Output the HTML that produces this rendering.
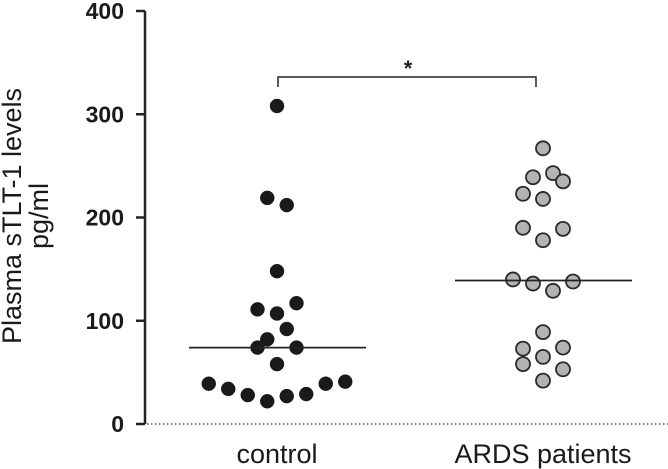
<!DOCTYPE html>
<html><head><meta charset="utf-8"><style>
html,body{margin:0;padding:0;background:#fff;}
svg{display:block;font-family:"Liberation Sans",Arial,sans-serif;}
</style></head><body>
<svg id="chart" width="668" height="469" viewBox="0 0 668 469">
  <g id="axes"></g>
  <g id="marks"></g>
</svg>
<script>
const yTicks = [0, 100, 200, 300, 400];
const categories = ["control", "ARDS patients"];
const controlValues = [308, 219, 212, 148, 111, 107, 117, 92, 82, 74, 74, 58, 39, 34, 28, 22, 27, 29, 39, 41];
const controlSlots = [0, -0.5, 0.5, 0, -1, 0, 1, 0.5, -0.5, -1, 1, 0, -3.5, -2.5, -1.5, -0.5, 0.5, 1.5, 2.5, 3.5];
const ardsValues = [267, 239, 243, 235, 223, 218, 190, 189, 178, 140, 136, 129, 138, 89, 73, 74, 65, 58, 53, 42];
const ardsSlots = [0, -0.5, 0.5, 1, -1, 0, -1, 1, 0, -1.5, -0.5, 0.5, 1.5, 0, -1, 1, 0, -1, 1, 0];
const medians = [74, 139];
const sigLabel = "*";

const NS = "http://www.w3.org/2000/svg";
const y0 = 424, yTop = 11, vMax = 400;
function yScale(v){ return y0 - (y0 - yTop) * v / vMax; }
const catCenters = [277, 543];
function xScale(i){ return catCenters[i]; }
const slotW = [19.5, 20];
function mk(tag, attrs, parent){ const e=document.createElementNS(NS,tag); for(const k in attrs) e.setAttribute(k,attrs[k]); parent.appendChild(e); return e; }

const axes = document.getElementById('axes');
const marks = document.getElementById('marks');
const axisX = 145;

let yl = mk('line',{x1:axisX,y1:yScale(vMax),x2:axisX,y2:y0,stroke:'#222','stroke-width':2.5},axes);


let bl = mk('line',{x1:axisX+2,y1:y0,x2:668,y2:y0,stroke:'#333','stroke-width':1.2,'stroke-dasharray':'1.5,2.5'},axes);



yTicks.forEach(t=>{
  const y=yScale(t);
  const tk=mk('line',{x1:136,y1:y,x2:axisX,y2:y,stroke:'#222','stroke-width':2.5},axes);
  
  
  const tx=mk('text',{x:124,y:y+8,'text-anchor':'end','font-size':23,'font-weight':'bold',fill:'#1a1a1a'},axes);
  tx.textContent=t;
  
  
});

const title=mk('text',{transform:'translate(21,216) rotate(-90)','text-anchor':'middle','font-size':27,fill:'#1a1a1a'},axes);
title.textContent='Plasma sTLT-1 levels';


const unit=mk('text',{transform:'translate(48,216) rotate(-90)','text-anchor':'middle','font-size':27,fill:'#1a1a1a'},axes);
unit.textContent='pg/ml';



categories.forEach((c,i)=>{
  const t=mk('text',{x:xScale(i),y:463,'text-anchor':'middle','font-size':27,fill:'#1a1a1a'},axes);
  t.textContent=c;
  
  
});

function drawGroup(vals, slots, gi, fill, stroke, sw){
  vals.forEach((v,k)=>{
    const c=mk('circle',{cx:xScale(gi)+slots[k]*slotW[gi],cy:yScale(v),r:7,fill:fill,stroke:stroke,'stroke-width':sw},marks);
    
    
  });
}
drawGroup(controlValues, controlSlots, 0, '#1a1a1a', '#1a1a1a', 0.5);
drawGroup(ardsValues, ardsSlots, 1, '#b3b3b3', '#2a2a2a', 1.8);

medians.forEach((m,i)=>{
  const l=mk('line',{x1:xScale(i)-88,y1:yScale(m),x2:xScale(i)+89,y2:yScale(m),stroke:'#222','stroke-width':1.8},marks);
  
  
});

const br=mk('path',{d:`M${xScale(0)+1},87 V77 H${xScale(1)-7} V87`,fill:'none',stroke:'#222','stroke-width':1.5},axes);


const st=mk('text',{x:(xScale(0)+xScale(1))/2-2,y:76,'text-anchor':'middle','font-size':22,'font-weight':'bold',fill:'#222'},axes);
st.textContent=sigLabel;


</script>
</body></html>
